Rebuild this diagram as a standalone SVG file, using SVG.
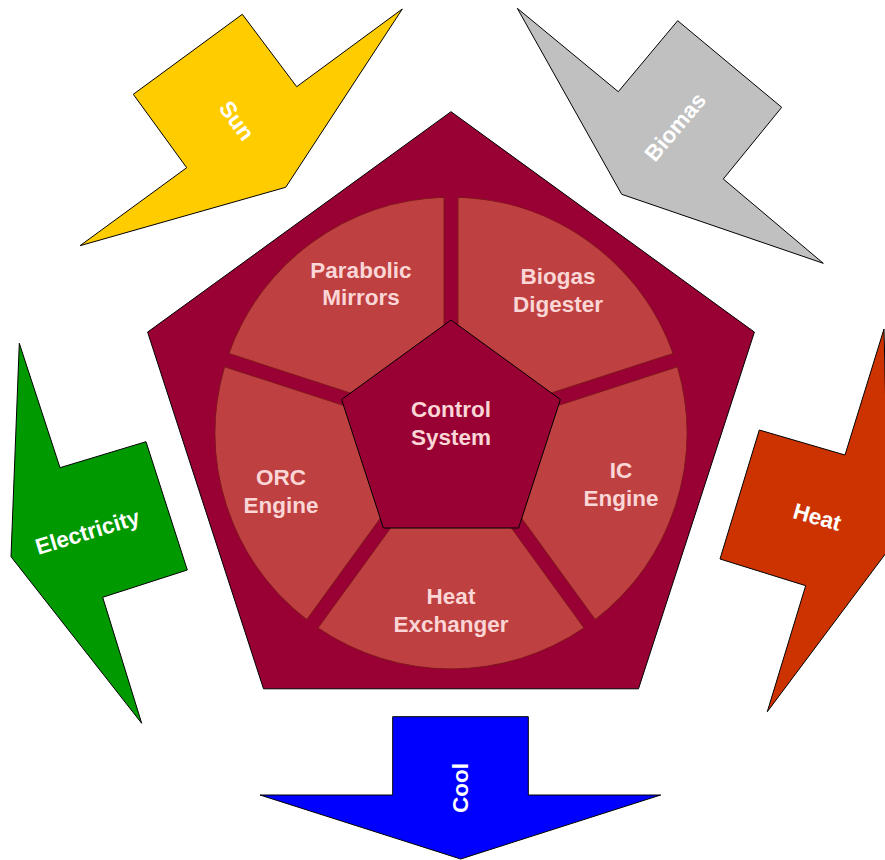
<svg xmlns="http://www.w3.org/2000/svg" width="885" height="860" viewBox="0 0 885 860">
  <style>
    .lbl { font-family: "Liberation Sans", Arial, sans-serif; font-weight: bold; font-size: 22.5px; text-anchor: middle; }
    .seg { fill: #BF4040; stroke: #80161e; stroke-width: 1; }
    .segtxt { fill: #FAD6D6; }
    .arrtxt { fill: #FFFFFF; }
    .arr { stroke: #000000; stroke-width: 1; stroke-linejoin: miter; }
  </style>
  <defs>
    <path id="wedge" d="M 451 444.9 L 584 627.9 A 236 236 0 0 1 318 627.9 Z"/>
  </defs>
  <rect width="885" height="860" fill="#FFFFFF"/>

  <g id="outer-pentagon">
    <polygon points="451,111.7 754.4,332.1 638.5,688.8 263.5,688.8 147.6,332.1" fill="#990033" stroke="#000000" stroke-width="1"/>
  </g>

  <g id="node-heat-exchanger">
    <use href="#wedge" class="seg"/>
    <text class="lbl segtxt" x="451" y="604">Heat</text>
    <text class="lbl segtxt" x="451" y="632">Exchanger</text>
  </g>
  <g id="node-orc-engine">
    <use href="#wedge" class="seg" transform="rotate(72 451 433)"/>
    <text class="lbl segtxt" x="281" y="485">ORC</text>
    <text class="lbl segtxt" x="281" y="513">Engine</text>
  </g>
  <g id="node-parabolic-mirrors">
    <use href="#wedge" class="seg" transform="rotate(144 451 433)"/>
    <text class="lbl segtxt" x="361" y="278.3">Parabolic</text>
    <text class="lbl segtxt" x="361" y="305">Mirrors</text>
  </g>
  <g id="node-biogas-digester">
    <use href="#wedge" class="seg" transform="rotate(216 451 433)"/>
    <text class="lbl segtxt" x="558" y="284">Biogas</text>
    <text class="lbl segtxt" x="558" y="312">Digester</text>
  </g>
  <g id="node-ic-engine">
    <use href="#wedge" class="seg" transform="rotate(288 451 433)"/>
    <text class="lbl segtxt" x="621" y="478">IC</text>
    <text class="lbl segtxt" x="621" y="506">Engine</text>
  </g>

  <g id="node-control-system">
    <polygon points="451,320 560.4,399.5 518.6,528 383.4,528 341.6,399.5" fill="#990033" stroke="#000000" stroke-width="1"/>
    <text class="lbl segtxt" x="451" y="416.7">Control</text>
    <text class="lbl segtxt" x="451" y="444.5">System</text>
  </g>

  <g id="connectors">
    <g id="arrow-sun">
      <polygon class="arr" fill="#FFCC00" points="242.3,14.3 296.7,86.7 402.3,9 285.7,187.3 80,245.7 186.7,167.7 133.3,94.3"/>
      <text class="lbl arrtxt" x="237" y="128.5" transform="rotate(54 237 120.5)">Sun</text>
    </g>
    <g id="arrow-biomas">
      <polygon class="arr" fill="#C0C0C0" points="517.3,8.3 618.3,91.7 677.7,20.7 781.7,107.3 723.3,179 823.3,263.3 621.7,194.3"/>
      <text class="lbl arrtxt" x="675" y="134.7" transform="rotate(-50 675 126.7)">Biomas</text>
    </g>
    <g id="arrow-electricity">
      <polygon class="arr" fill="#009900" points="19.3,343.3 60,467.7 146,441.7 187.3,570 102.7,597.3 141.7,723.3 11,556.7"/>
      <text class="lbl arrtxt" x="87.4" y="539.7" transform="rotate(-17 87.4 531.7)">Electricity</text>
    </g>
    <g id="arrow-heat">
      <polygon class="arr" fill="#CC3300" points="884,329 845,455 759.3,430 720,559 805.7,585.7 767.3,711.7 889,549"/>
      <text class="lbl arrtxt" x="817.3" y="524.7" transform="rotate(16 817.3 516.7)">Heat</text>
    </g>
    <g id="arrow-cool">
      <polygon class="arr" fill="#0000FF" points="392.7,716.7 528.3,716.7 528.3,795 660.7,795 460.7,859 260,795 392.7,795"/>
      <text class="lbl arrtxt" x="460" y="796" transform="rotate(-90 460 788)">Cool</text>
    </g>
  </g>
</svg>
